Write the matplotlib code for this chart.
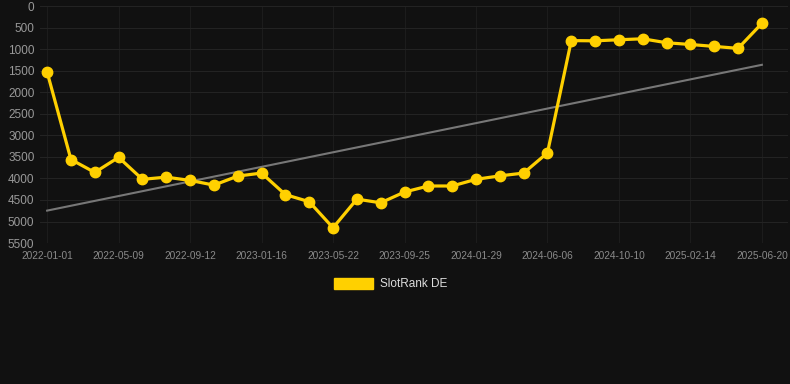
import numpy as np
import matplotlib
matplotlib.use("Agg")
import matplotlib.pyplot as plt
from matplotlib.patches import Patch

plt.rcParams["font.family"] = ["Liberation Sans", "DejaVu Sans"]

# rank values, one point every ~6 weeks
ranks = [1530, 3560, 3860, 3510, 4020, 3970, 4045, 4155, 3945, 3875,
         4375, 4540, 5145, 4480, 4565, 4315, 4175, 4175, 4020, 3940,
         3875, 3405, 800, 805, 780, 758, 850, 890, 935, 980, 400]
tick_labels = ["2022-01-01", "2022-05-09", "2022-09-12", "2023-01-16",
               "2023-05-22", "2023-09-25", "2024-01-29", "2024-06-06",
               "2024-10-10", "2025-02-14", "2025-06-20"]
y_ticks = [0, 500, 1000, 1500, 2000, 2500, 3000, 3500, 4000, 4500, 5000, 5500]

bg = "#111111"
gold = "#FFD000"

x = np.arange(len(ranks))
slope, icept = np.polyfit(x, ranks, 1)
trend = slope * x + icept

fig = plt.figure(figsize=(7.9, 3.84), dpi=100, facecolor=bg)
ax = fig.add_axes([0.0506, 0.367, 0.947, 0.617], facecolor=bg)

ax.plot(x, trend, color="#777777", lw=1.5, zorder=2)
ax.plot(x, ranks, color=gold, lw=2.3, marker="o", ms=7.5, zorder=3)

ax.set_ylim(5500, 0)
ax.set_xlim(-0.3, 31.1)
ax.set_yticks(y_ticks)
ax.set_xticks(x[::3])
ax.set_xticklabels(tick_labels)
ax.tick_params(axis="y", colors="#999999", labelsize=8.5, length=0, pad=4)
ax.tick_params(axis="x", colors="#8a8a8a", labelsize=7.3, length=0, pad=6)
ax.grid(True, axis="y", color="#232323", lw=0.8)
ax.grid(True, axis="x", color="#1c1c1c", lw=0.8)
for s in ax.spines.values():
    s.set_visible(False)

handle = Patch(facecolor=gold, edgecolor=gold)
fig.legend([handle], ["SlotRank DE"], loc="center", bbox_to_anchor=(0.494, 0.26),
           frameon=False, fontsize=8.5, labelcolor="#dddddd",
           handlelength=3.3, handleheight=1.0, handletextpad=0.6)

fig.savefig("out.png", dpi=100, facecolor=bg)
